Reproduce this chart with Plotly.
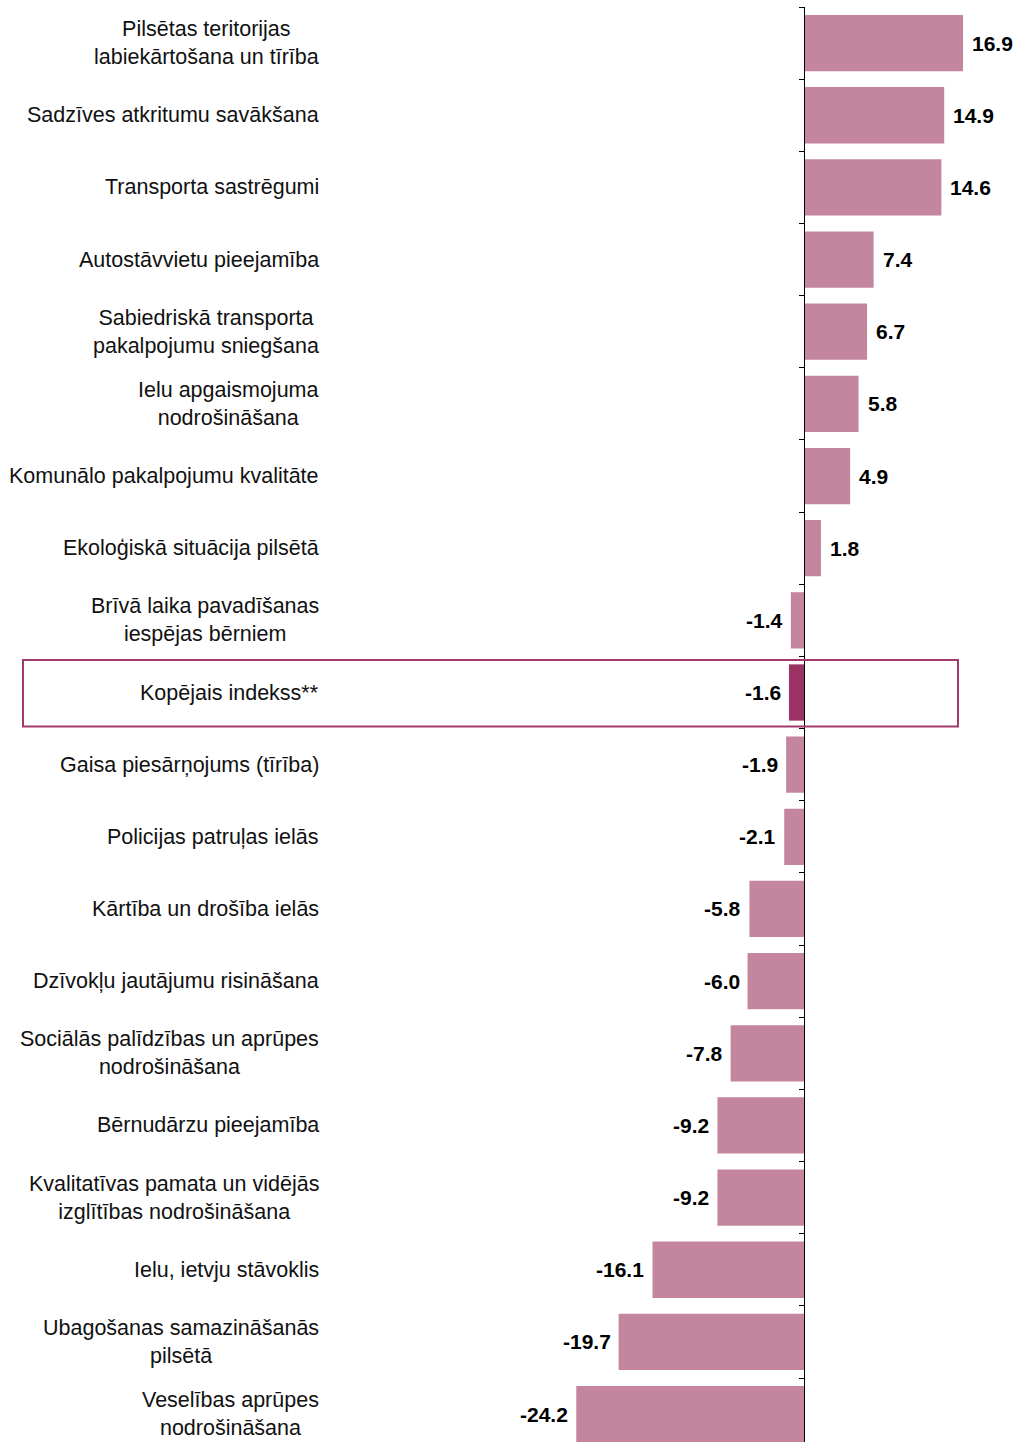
import plotly.graph_objects as go

categories = [
    "Pilsētas teritorijas<br>labiekārtošana un tīrība",
    "Sadzīves atkritumu savākšana",
    "Transporta sastrēgumi",
    "Autostāvvietu pieejamība",
    "Sabiedriskā transporta<br>pakalpojumu sniegšana",
    "Ielu apgaismojuma<br>nodrošināšana",
    "Komunālo pakalpojumu kvalitāte",
    "Ekoloģiskā situācija pilsētā",
    "Brīvā laika pavadīšanas<br>iespējas bērniem",
    "Kopējais indekss**",
    "Gaisa piesārņojums (tīrība)",
    "Policijas patruļas ielās",
    "Kārtība un drošība ielās",
    "Dzīvokļu jautājumu risināšana",
    "Sociālās palīdzības un aprūpes<br>nodrošināšana",
    "Bērnudārzu pieejamība",
    "Kvalitatīvas pamata un vidējās<br>izglītības nodrošināšana",
    "Ielu, ietvju stāvoklis",
    "Ubagošanas samazināšanās<br>pilsētā",
    "Veselības aprūpes<br>nodrošināšana",
]
values = [16.9, 14.9, 14.6, 7.4, 6.7, 5.8, 4.9, 1.8, -1.4, -1.6,
          -1.9, -2.1, -5.8, -6.0, -7.8, -9.2, -9.2, -16.1, -19.7, -24.2]
highlight = "Kopējais indekss**"

BAR = "#C4869E"
DARK = "#9B3465"
BOX = "#A3386C"
FONT = "Liberation Sans, Arial, sans-serif"

W, H = 1013, 1442
L, R, T, B = 330, 0, 7, 0
xmin, xmax = -50.37, 22.21
n = len(categories)
plot_w = W - L - R

colors = [DARK if c == highlight else BAR for c in categories]

fig = go.Figure()
fig.add_trace(go.Bar(
    x=values, y=categories, orientation="h",
    marker=dict(color=colors, line=dict(width=0)),
    width=0.78, hoverinfo="skip",
))
fig.add_trace(go.Scatter(
    x=[0] * n, y=categories, yaxis="y2", mode="markers",
    marker=dict(opacity=0), hoverinfo="skip", showlegend=False,
))

yrange = [n - 1 + 0.387, -0.5]
fig.update_layout(
    width=W, height=H,
    margin=dict(l=L, r=R, t=T, b=B, pad=0),
    paper_bgcolor="white", plot_bgcolor="white",
    showlegend=False,
    xaxis=dict(range=[xmin, xmax], visible=False, zeroline=False, showgrid=False),
    yaxis=dict(type="category", categoryorder="array", categoryarray=categories,
               range=yrange, showticklabels=False, showgrid=False,
               zeroline=False, showline=False, ticks=""),
    yaxis2=dict(type="category", categoryorder="array", categoryarray=categories,
                range=yrange, overlaying="y", anchor="free",
                position=(0 - xmin) / (xmax - xmin), side="left",
                showline=True, linecolor="black", linewidth=1,
                ticks="outside", tickson="boundaries", ticklen=5,
                tickcolor="black", tickwidth=1,
                showticklabels=False, showgrid=False, zeroline=False),
    font=dict(family=FONT, color="black"),
)

label_x = (321 - L) / plot_w
annotations = []
for c, v in zip(categories, values):
    annotations.append(dict(
        x=label_x, xref="paper", y=c, yref="y", text=c,
        xanchor="right", yanchor="middle", align="center",
        showarrow=False, font=dict(family=FONT, size=21.5, color="#111111"),
    ))
    annotations.append(dict(
        x=v, xref="x", y=c, yref="y", text=f"<b>{v:.1f}</b>",
        xanchor="left" if v >= 0 else "right", yanchor="middle",
        xshift=7 if v >= 0 else -6,
        showarrow=False, font=dict(family=FONT, size=21, color="black"),
    ))
fig.update_layout(annotations=annotations)

hi = categories.index(highlight)
fig.add_shape(type="rect", xref="paper", yref="y",
              x0=(23 - L) / plot_w, x1=(958 - L) / plot_w,
              y0=hi - 0.45, y1=hi + 0.47,
              line=dict(color=BOX, width=2), fillcolor="rgba(0,0,0,0)", layer="above")

fig.write_html("out.html",
               config={"displayModeBar": False},
               post_script="document.body.style.margin='0px';"
                           "document.body.style.overflow='hidden';")
